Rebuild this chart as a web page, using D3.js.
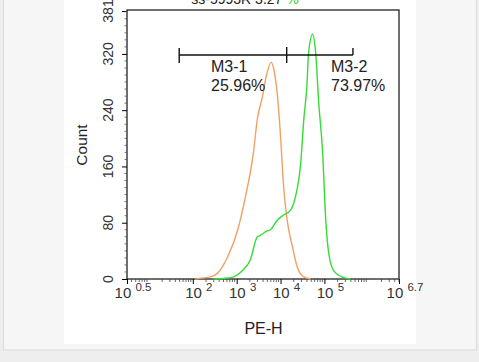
<!DOCTYPE html>
<html>
<head>
<meta charset="utf-8">
<script src="https://cdn.jsdelivr.net/npm/d3@7"></script>
<style>
    body { margin: 0; background: #eeeeee; font-family: "Liberation Sans", Arial, sans-serif; }
    #chart { width: 479px; height: 362px; }
</style>
</head>
<body>
<div id="chart"></div>
<script>
const orangeLog = [2.06, 2.17, 2.40, 2.56, 2.79, 3.02, 3.20, 3.38, 3.47, 3.59, 3.68, 3.79, 3.84, 3.93, 4.00, 4.07, 4.15, 4.27, 4.38, 4.53, 4.69];
const orangeCount = [0, 1, 3, 8, 31, 69, 117, 179, 227, 260, 290, 308, 300, 260, 203, 131, 84, 46, 17, 3, 0];

const greenLog = [2.47, 2.74, 2.93, 3.13, 3.31, 3.47, 3.54, 3.61, 3.68, 3.77, 3.93, 4.07, 4.23, 4.34, 4.46, 4.53, 4.60, 4.64, 4.73, 4.80, 4.87, 4.96, 5.03, 5.10, 5.21, 5.44, 5.60];
const greenCount = [0, 1, 3, 12, 27, 60, 62, 65, 68, 70, 84, 91, 98, 117, 165, 227, 274, 322, 348, 322, 251, 179, 84, 36, 12, 2, 0];

const yTicks = [0, 80, 160, 240, 320, 381];
const xTicks = [0.5, 2, 3, 4, 5, 6.7];

// gates: [start, divider, end] in log units
const gateLog = [1.69, 4.14, 5.65];
const gateNames = ["M3-1", "M3-2"];
const gatePct = ["25.96%", "73.97%"];

const W = 479, H = 362;
const mLeft = 127, mRight = 399, mTop = 11, mBottom = 279;

const svg = d3.select("#chart").append("svg")
    .attr("width", W)
    .attr("height", H);

// page panel + white image area
svg.append("rect").attr("x", 3.5).attr("y", -1).attr("width", 473).attr("height", 351)
    .attr("fill", "#f5f6f5").attr("stroke", "#dcdcdc");
svg.append("rect").attr("x", 64).attr("y", 0).attr("width", 352).attr("height", 344)
    .attr("fill", "#fff");

const x = d3.scaleLinear().domain([0.5, 6.7]).range([mLeft, mRight]);
const y = d3.scaleLinear().domain([0, 381]).range([mBottom, mTop]);

// cut-off title at the top edge (as in the source image)
const title = svg.append("text")
    .attr("x", 245).attr("y", 3.5)
    .attr("text-anchor", "middle")
    .attr("font-size", 14)
    .attr("fill", "#222");
title.append("tspan").text("ss-5993R 3.27");
title.append("tspan").attr("fill", "#3c3").text(" %");

// frame
svg.append("rect")
    .attr("x", mLeft).attr("y", mTop - 1)
    .attr("width", mRight - mLeft).attr("height", mBottom - mTop + 1)
    .attr("fill", "none").attr("stroke", "#222").attr("stroke-width", 1.3);

// y axis
const yAxis = d3.axisLeft(y).tickValues(yTicks).tickSize(5).tickFormat("");
svg.append("g").attr("transform", `translate(${mLeft},0)`).call(yAxis)
    .call(g => g.select(".domain").remove());
svg.append("g").selectAll("line")
    .data(d3.range(10, 381, 10).filter(v => v % 80 !== 0))
    .enter().append("line")
    .attr("x1", mLeft - 2.5).attr("x2", mLeft)
    .attr("y1", d => y(d)).attr("y2", d => y(d))
    .attr("stroke", "#555").attr("stroke-width", 0.8);
svg.append("g").selectAll("text")
    .data(yTicks)
    .enter().append("text")
    .attr("transform", d => `translate(113,${y(d)}) rotate(-90)`)
    .attr("text-anchor", "middle")
    .attr("font-size", 14)
    .attr("fill", "#333")
    .text(d => d);

svg.append("text")
    .attr("transform", "translate(87,145) rotate(-90)")
    .attr("text-anchor", "middle")
    .attr("font-size", 15.5)
    .attr("fill", "#222")
    .text("Count");

// x axis
const xAxis = d3.axisBottom(x).tickValues(xTicks).tickSize(5).tickFormat("");
svg.append("g").attr("transform", `translate(0,${mBottom})`).call(xAxis)
    .call(g => g.select(".domain").remove());

let minor = [];
for (let dec = 0; dec <= 6; dec++) {
    for (let m = 2; m <= 9; m++) {
        const v = dec + Math.log10(m);
        if (v > 0.5 && v < 6.7) minor.push(v);
    }
}
svg.append("g").selectAll("line")
    .data(minor)
    .enter().append("line")
    .attr("x1", d => x(d)).attr("x2", d => x(d))
    .attr("y1", mBottom).attr("y2", mBottom + 3)
    .attr("stroke", "#444").attr("stroke-width", 0.8);

const xl = svg.append("g").selectAll("text")
    .data(xTicks)
    .enter().append("text")
    .attr("x", d => x(d) + 6)
    .attr("y", 298)
    .attr("text-anchor", "middle")
    .attr("font-size", 15)
    .attr("fill", "#333");
xl.append("tspan").text("10 ");
xl.append("tspan").attr("dy", -7).attr("font-size", 11.5).text(d => d);

svg.append("text")
    .attr("x", 263.5).attr("y", 334)
    .attr("text-anchor", "middle")
    .attr("font-size", 16)
    .attr("fill", "#222")
    .text("PE-H");

// histograms
const line = d3.line()
    .x(d => x(d[0]))
    .y(d => y(d[1]))
    .curve(d3.curveMonotoneX);

svg.append("path")
    .datum(d3.zip(orangeLog, orangeCount))
    .attr("d", line)
    .attr("fill", "none")
    .attr("stroke", "#f2a065")
    .attr("stroke-width", 1.4);

svg.append("path")
    .datum(d3.zip(greenLog, greenCount))
    .attr("d", line)
    .attr("fill", "none")
    .attr("stroke", "#36dc36")
    .attr("stroke-width", 1.4);

// gate markers
const gy = 55;
svg.append("line")
    .attr("x1", x(gateLog[0])).attr("x2", x(gateLog[2]))
    .attr("y1", gy).attr("y2", gy)
    .attr("stroke", "#111").attr("stroke-width", 1.4);
svg.append("line").attr("x1", x(gateLog[0])).attr("x2", x(gateLog[0]))
    .attr("y1", gy - 7).attr("y2", gy + 8).attr("stroke", "#111").attr("stroke-width", 1.4);
svg.append("line").attr("x1", x(gateLog[1])).attr("x2", x(gateLog[1]))
    .attr("y1", gy - 8).attr("y2", gy + 8).attr("stroke", "#111").attr("stroke-width", 1.4);
svg.append("line").attr("x1", x(gateLog[2])).attr("x2", x(gateLog[2]))
    .attr("y1", gy - 7).attr("y2", gy).attr("stroke", "#111").attr("stroke-width", 1.4);

const labelX = [211, 331];
gateNames.forEach((n, i) => {
    svg.append("text").attr("x", labelX[i]).attr("y", 72)
        .attr("font-size", 16).attr("fill", "#222").text(n);
    svg.append("text").attr("x", labelX[i]).attr("y", 91)
        .attr("font-size", 16).attr("fill", "#222").text(gatePct[i]);
});
</script>
</body>
</html>
